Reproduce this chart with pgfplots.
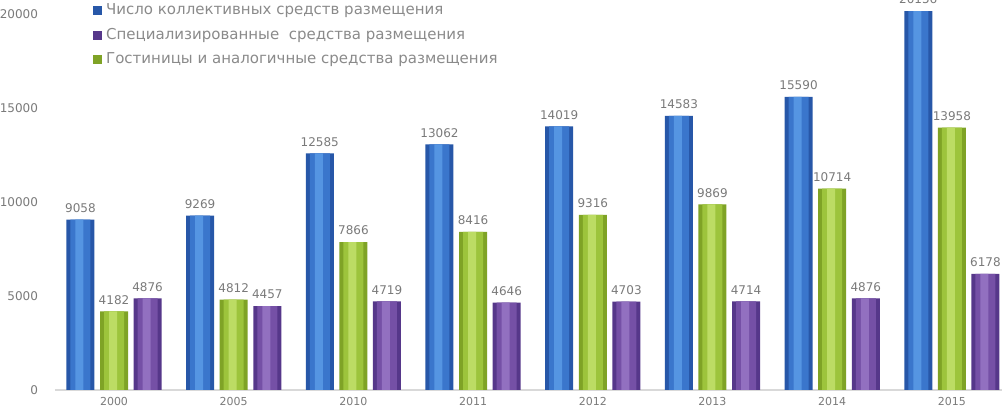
\documentclass[border=0pt]{standalone}
\usepackage{fontspec}
\setmainfont{DejaVu Sans}
\usepackage{pgfplots}
\usepackage{pgfplotstable}
\pgfplotsset{compat=1.18}
\definecolor{txtgray}{HTML}{7A7A7A}
\definecolor{lblgray}{HTML}{8A8A8A}
\definecolor{blueD}{HTML}{2757A8}
\definecolor{blueM}{HTML}{3A76CC}
\definecolor{blueL}{HTML}{5595E2}
\definecolor{greenD}{HTML}{7FA326}
\definecolor{greenM}{HTML}{9DC43C}
\definecolor{greenL}{HTML}{BCDC64}
\definecolor{purpD}{HTML}{56378A}
\definecolor{purpM}{HTML}{7550A6}
\definecolor{purpL}{HTML}{9270C0}

% x: 0=2000, 1=2005, 2=2010, ... 7=2015
\pgfplotstableread{
x  blue   purple  green
0  9058   4876    4182
1  9269   4457    4812
2  12585  4719    7866
3  13062  4646    8416
4  14019  4703    9316
5  14583  4714    9869
6  15590  4876    10714
7  20156  6178    13958
}\datatable

\pgfplotsset{
  layer/.style={forget plot, draw=none},
}
\begin{document}
\begin{tikzpicture}
\begin{axis}[
    scale only axis,
    width=473.5pt, height=195pt,
    xmin=-0.493, xmax=7.419,
    ymin=0, ymax=20745,
    ybar, bar width=14pt,
    axis x line*=bottom, axis y line*=left,
    x axis line style={draw=gray!30, line width=0.6pt, -},
    y axis line style={draw=none},
    xtick={0,...,7},
    xticklabels={2000,2005,2010,2011,2012,2013,2014,2015},
    xticklabel style={font=\fontsize{5.5}{6}\selectfont, text=txtgray},
    major tick length=0pt,
    ytick={0,5000,...,20000},
    scaled y ticks=false,
    yticklabel style={font=\fontsize{6}{7}\selectfont, text=txtgray, xshift=-5pt},
    /pgf/number format/assume math mode=true,
    /pgf/number format/1000 sep={},
    nodes near coords style={font=\fontsize{6}{7}\selectfont, text=txtgray},
    legend style={at={(0.0337,1.012)}, anchor=north west, draw=none, fill=none,
        font=\fontsize{7.5}{8.5}\selectfont, text=lblgray, row sep=1.2pt},
    legend cell align=left,
    legend image code/.code={\path[#1, draw=none] (0pt,-2.2pt) rectangle (4.4pt,2.2pt);},
    clip=false,
]
% blue
\addplot[fill=blueD, draw=none, bar shift=-16.8pt, nodes near coords] table[x=x, y=blue] {\datatable};
\addlegendentry{Число коллективных средств размещения}
% purple
\addplot[fill=purpD, draw=none, bar shift=16.8pt, nodes near coords] table[x=x, y=purple] {\datatable};
\addlegendentry{Специализированные\ \ средства размещения}
% green
\addplot[fill=greenD, draw=none, bar shift=0pt, nodes near coords] table[x=x, y=green] {\datatable};
\addlegendentry{Гостиницы и аналогичные средства размещения}

% lighter inner layers for a rounded look
\addplot[layer, fill=blueM, bar shift=-16.8pt, bar width=10pt] table[x=x, y=blue] {\datatable};
\addplot[layer, fill=blueL, bar shift=-17.3pt, bar width=4pt] table[x=x, y=blue] {\datatable};
\addplot[layer, fill=purpM, bar shift=16.8pt, bar width=10pt] table[x=x, y=purple] {\datatable};
\addplot[layer, fill=purpL, bar shift=16.3pt, bar width=4pt] table[x=x, y=purple] {\datatable};
\addplot[layer, fill=greenM, bar shift=0pt, bar width=10pt] table[x=x, y=green] {\datatable};
\addplot[layer, fill=greenL, bar shift=-0.5pt, bar width=4pt] table[x=x, y=green] {\datatable};
\end{axis}
\pgfresetboundingbox
\useasboundingbox (-27.5pt,-10.5pt) rectangle (473.5pt,195pt);
\end{tikzpicture}
\end{document}
